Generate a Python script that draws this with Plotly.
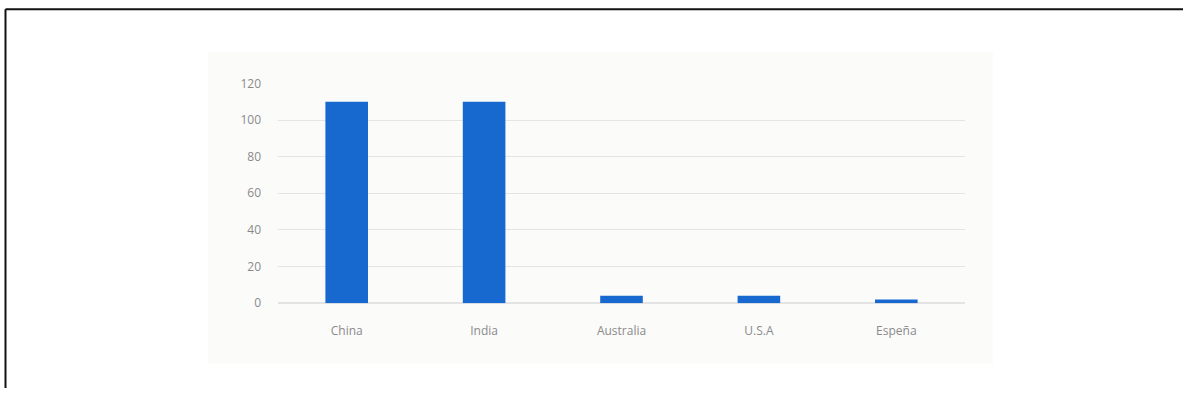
import plotly.graph_objects as go

# Data
countries = ["China", "India", "Australia", "U.S.A", "Espeña"]
values = [110, 110, 4, 4, 2]
y_ticks = [0, 20, 40, 60, 80, 100, 120]

W, H = 1183, 396
# vertical placement of the rendered figure inside the page
TOP, SCALE = 8.8, 0.954


def px(x):
    return x / W


def py(y):
    return min(1.0, 1 - ((y - TOP) / SCALE) / H)


fig = go.Figure(
    go.Bar(
        x=countries,
        y=values,
        width=0.31,
        marker=dict(color="#1769cf", line=dict(width=0)),
        hoverinfo="x+y",
    )
)

fig.update_layout(
    width=W,
    height=H,
    margin=dict(l=0, r=0, t=0, b=0),
    paper_bgcolor="white",
    plot_bgcolor="rgba(0,0,0,0)",
    showlegend=False,
    font=dict(family="Open Sans", size=12, color="#8a8a8a"),
    xaxis=dict(
        domain=[px(278), px(965)],
        showgrid=False,
        showline=False,
        zeroline=False,
        ticks="",
        tickfont=dict(size=12, color="#8a8a8a"),
        ticklabelstandoff=19,
    ),
    yaxis=dict(
        domain=[py(302), py(83)],
        range=[0, 120],
        tickvals=y_ticks,
        showgrid=True,
        gridcolor="#e4e4e4",
        gridwidth=1,
        zeroline=True,
        zerolinecolor="#e4e4e4",
        showline=False,
        ticks="",
        tickfont=dict(size=12, color="#8a8a8a"),
        ticklabelstandoff=16,
    ),
    shapes=[
        # inner panel background
        dict(type="rect", xref="paper", yref="paper",
             x0=px(208), x1=px(993), y0=py(362), y1=py(52),
             fillcolor="#fbfbfa", line=dict(width=0), layer="below"),
        # outer frame: top and left edges
        dict(type="line", xref="paper", yref="paper",
             x0=px(5.5), x1=1, y0=py(9), y1=py(9),
             line=dict(color="#111111", width=2)),
        dict(type="line", xref="paper", yref="paper",
             x0=px(5.5), x1=px(5.5), y0=py(9), y1=0,
             line=dict(color="#111111", width=2)),
    ],
)

fig.write_html("out.html")
